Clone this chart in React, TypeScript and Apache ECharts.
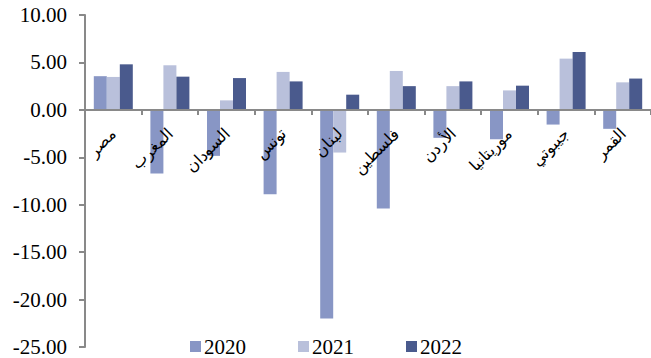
import React, { useEffect, useRef } from "react";
import * as echarts from "echarts";

const categories = ["مصر", "المغرب", "السودان", "تونس", "لبنان", "فلسطين", "الأردن", "موريتانيا", "جيبوتي", "القمر"];
const years = ["2020", "2021", "2022"];
const values2020 = [3.55, -6.7, -4.85, -8.9, -22.0, -10.4, -2.95, -3.1, -1.55, -2.0];
const values2021 = [3.47, 4.7, 1.0, 4.0, -4.5, 4.1, 2.5, 2.05, 5.4, 2.9];
const values2022 = [4.8, 3.5, 3.35, 3.0, 1.6, 2.5, 3.0, 2.55, 6.1, 3.3];
const colors = ["#8896C5", "#B9C0DB", "#4A5A8D"];
const yMin = -25;
const yMax = 10;

const FONT = "'Liberation Serif', 'Times New Roman', 'DejaVu Serif', serif";

export default function App() {
  const ref = useRef<HTMLDivElement>(null);
  useEffect(() => {
    if (!ref.current) return;
    const chart = echarts.init(ref.current, null, { renderer: "svg" });
    const seriesData = [values2020, values2021, values2022];
    const gridTop = 15;
    const gridBottom = 11;
    const plotH = 358 - gridTop - gridBottom;
    const zeroOffset = -Math.round((plotH * (0 - yMin)) / (yMax - yMin));
    chart.setOption({
      animation: false,
      grid: { left: 85, right: 0, top: gridTop, bottom: gridBottom, containLabel: false, outerBoundsMode: "none" },
      legend: {
        data: years,
        left: 185,
        top: 331,
        itemWidth: 11,
        itemHeight: 11,
        itemGap: 52,
        icon: "rect",
        textStyle: { fontSize: 21, fontFamily: FONT, color: "#000", padding: [0, 0, 0, -2] },
      },
      xAxis: {
        type: "category",
        data: categories,
        position: "bottom",
        offset: zeroOffset,
        z: 5,
        axisLine: { onZero: false, lineStyle: { color: "#898989", width: 2 } },
        axisTick: { show: true, length: 5, lineStyle: { color: "#898989", width: 2 } },
        axisLabel: {
          rotate: 45,
          interval: 0,
          margin: 21,
          fontSize: 16,
          fontFamily: FONT,
          color: "#000",
        },
      },
      yAxis: {
        type: "value",
        min: yMin,
        max: yMax,
        interval: 5,
        splitLine: { show: false },
        axisLine: { show: true, lineStyle: { color: "#898989", width: 2 } },
        axisTick: { show: true, length: 6, lineStyle: { color: "#898989", width: 2 } },
        axisLabel: {
          margin: 18,
          fontSize: 21,
          fontFamily: FONT,
          color: "#000",
          formatter: (v: number) => v.toFixed(2),
        },
      },
      series: years.map((y, i) => ({
        name: y,
        type: "bar",
        data: seriesData[i],
        barWidth: 13,
        barGap: "0%",
        itemStyle: { color: colors[i] },
      })),
    });
    return () => chart.dispose();
  }, []);
  return <div ref={ref} style={{ width: 651, height: 358, position: "absolute", left: 0, top: 0 }} />;
}
